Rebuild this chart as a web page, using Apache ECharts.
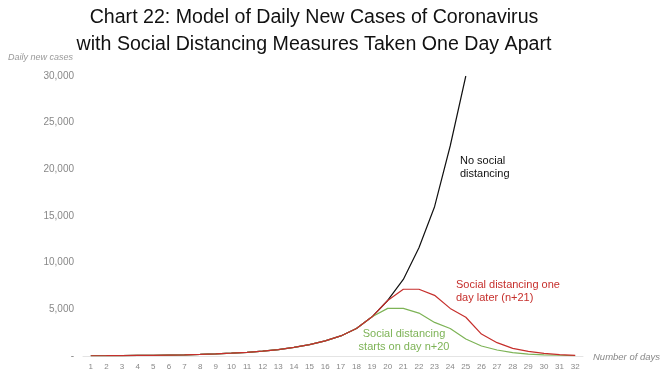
<!DOCTYPE html>
<html>
<head>
<meta charset="utf-8">
<script src="https://cdn.jsdelivr.net/npm/echarts@6/dist/echarts.min.js"></script>
<style>
html,body{margin:0;padding:0;background:#fff;}
#chart{width:670px;height:378px;}
</style>
</head>
<body>
<div id="chart"></div>
<script>
var days = [];
for (var d = 1; d <= 32; d++) days.push(String(d));

var noDistancing = [25, 33, 44, 58, 77, 100, 130, 170, 225, 300, 390, 520, 690, 920, 1220, 1620, 2150, 2950, 4200, 5950, 8200, 11600, 16000, 22500, 30000, null, null, null, null, null, null, null];
var distancingN21 = [25, 33, 44, 58, 77, 100, 130, 170, 225, 300, 390, 520, 690, 920, 1220, 1620, 2150, 2950, 4200, 5950, 7150, 7150, 6500, 5100, 4150, 2350, 1430, 820, 500, 290, 150, 70];
var distancingN20 = [25, 33, 44, 58, 77, 100, 130, 170, 225, 300, 390, 520, 690, 920, 1220, 1620, 2150, 2950, 4200, 5100, 5100, 4600, 3600, 2950, 1820, 1070, 640, 370, 210, 130, 80, 50];

var yTicks = [0, 5000, 10000, 15000, 20000, 25000, 30000];

var chart = echarts.init(document.getElementById('chart'));
var font = '"Liberation Sans", Arial, sans-serif';
chart.setOption({
  animation: false,
  backgroundColor: '#ffffff',
  textStyle: {fontFamily: font},
  grid: {left: 83, right: 87, top: 76, bottom: 22},
  xAxis: {
    type: 'category',
    data: days,
    boundaryGap: true,
    axisLine: {lineStyle: {color: '#e4e4e4', width: 1}},
    axisTick: {show: false},
    axisLabel: {color: '#888', fontSize: 8, margin: 7, interval: 0}
  },
  yAxis: {
    type: 'value',
    min: yTicks[0],
    max: yTicks[yTicks.length - 1],
    interval: yTicks[1] - yTicks[0],
    splitLine: {show: false},
    axisLine: {show: false},
    axisTick: {show: false},
    axisLabel: {
      color: '#888', fontSize: 10, margin: 9,
      formatter: function (v) { return v === 0 ? '-' : v.toLocaleString('en-US'); }
    }
  },
  series: [
    {name: 'No social distancing', type: 'line', data: noDistancing, symbol: 'none', lineStyle: {color: '#111', width: 1.2}, z: 2},
    {name: 'Social distancing starts on day n+20', type: 'line', data: distancingN20, symbol: 'none', lineStyle: {color: '#7db356', width: 1.2}, z: 3},
    {name: 'Social distancing one day later (n+21)', type: 'line', data: distancingN21, symbol: 'none', lineStyle: {color: '#c62f2c', width: 1.2}, z: 4}
  ],
  graphic: [
    {type: 'text', x: 314, y: 4, style: {text: 'Chart 22: Model of Daily New Cases of Coronavirus\nwith Social Distancing Measures Taken One Day Apart', fill: '#111', font: '19.6px ' + font, lineHeight: 27, align: 'center', verticalAlign: 'top'}},
    {type: 'text', left: 8, top: 53, style: {text: 'Daily new cases', fill: '#999', font: 'italic 9px ' + font}},
    {type: 'text', left: 593, top: 352, style: {text: 'Number of days', fill: '#888', font: 'italic 9.5px ' + font}},
    {type: 'text', left: 460, top: 154, style: {text: 'No social\ndistancing', fill: '#111', font: '11px ' + font, lineHeight: 13}},
    {type: 'text', left: 456, top: 278, style: {text: 'Social distancing one\nday later (n+21)', fill: '#c62f2c', font: '11px ' + font, lineHeight: 13}},
    {type: 'text', x: 404, y: 327, style: {text: 'Social distancing\nstarts on day n+20', fill: '#7db356', font: '11px ' + font, lineHeight: 13, align: 'center'}}
  ]
});
</script>
</body>
</html>
